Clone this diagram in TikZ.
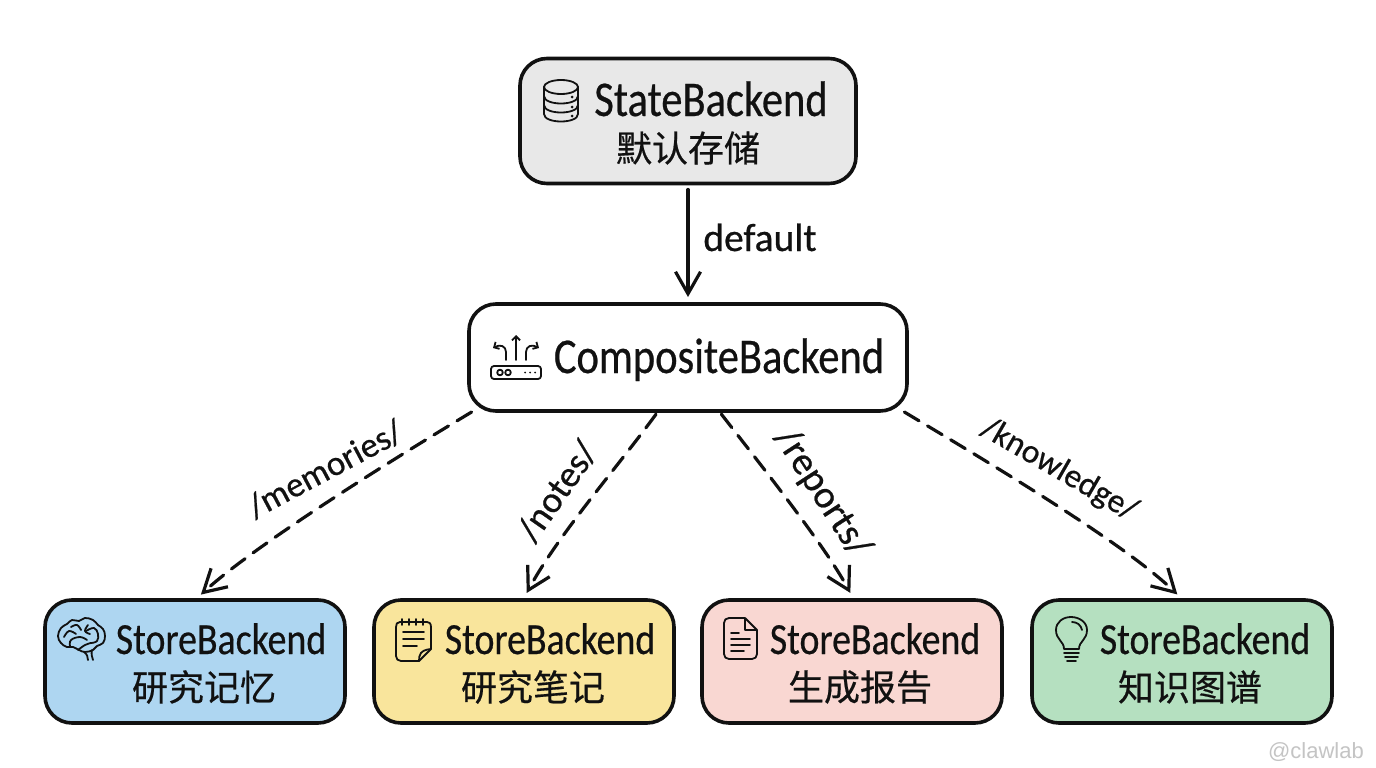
\documentclass[tikz,border=0pt]{standalone}
\usepackage{fontspec}
\usetikzlibrary{arrows.meta}
\setmainfont{Carlito}[FakeStretch=0.85,FakeBold=0.5]
\newfontfamily\routefont{Carlito}[FakeBold=0.6]
\newfontfamily\cjk{Noto Sans CJK SC}[FakeBold=0.5]
\newfontfamily\wm{Liberation Sans}
\definecolor{ink}{HTML}{111111}
\tikzset{
  box/.style={draw=ink,line width=3.6pt,rounded corners=27pt,inner sep=0pt,outer sep=0pt,minimum width=#1},
  head/.style={text=ink,inner sep=0pt,anchor=base,font=\fontsize{50}{50}\selectfont},
  storehead/.style={text=ink,inner sep=0pt,anchor=base,font=\fontsize{44.5}{44.5}\selectfont},
  zh/.style={text=ink,inner sep=0pt,font=\cjk\fontsize{36}{36}\selectfont},
  route/.style={text=ink,inner sep=0pt,font=\routefont\fontsize{#1}{#1}\selectfont},
  conn/.style={draw=ink,line width=3.2pt,line cap=round,-{Straight Barb[length=22pt,width=25pt]}},
  dashconn/.style={conn,dash pattern=on 17pt off 10pt},
  icon/.style={draw=ink,line width=1.8pt,line cap=round,line join=round},
  dotmark/.style={fill=ink,draw=none}
}
\begin{document}
\begin{tikzpicture}[x=1pt,y=-1pt]
\useasboundingbox (0,0) rectangle (1376,768);
\fill[white] (0,0) rectangle (1376,768);
% boxes
\node[box=336pt,minimum height=125pt,fill={rgb,255:red,232;green,232;blue,232}] (state) at (688,121) {};
\node[box=438pt,minimum height=107pt,fill=white] (comp) at (688,357.5) {};
\node[box=300pt,minimum height=123pt,fill={rgb,255:red,174;green,214;blue,241}] (mem) at (195,661.5) {};
\node[box=300pt,minimum height=123pt,fill={rgb,255:red,249;green,229;blue,156}] (notes) at (524,661.5) {};
\node[box=300pt,minimum height=123pt,fill={rgb,255:red,249;green,215;blue,210}] (rep) at (852,661.5) {};
\node[box=300pt,minimum height=123pt,fill={rgb,255:red,181;green,224;blue,192}] (know) at (1182,661.5) {};
% texts
\node[head] (t1) at (711,116) {StateBackend};
\node[zh] (z1) at (688,148) {默认存储};
\node[head] (t2) at (719,373) {CompositeBackend};
\node[storehead] (t3) at (221,654) {StoreBackend};
\node[zh] (z3) at (204,687) {研究记忆};
\node[storehead] (t4) at (550,654) {StoreBackend};
\node[zh] (z4) at (533,687) {研究笔记};
\node[storehead] (t5) at (875,654) {StoreBackend};
\node[zh] (z5) at (860,687) {生成报告};
\node[storehead] (t6) at (1205,654) {StoreBackend};
\node[zh] (z6) at (1190,687) {知识图谱};
% connectors
\draw[conn,shorten <=6pt,shorten >=7pt] (state.south) -- (comp.north);
\node[route=39.5,anchor=base] (l0) at (760,251) {default};
\draw[dashconn,shorten <=2pt,shorten >=8pt] (comp.194.3) .. controls +(-80,48) and +(60,-55) .. (mem.north);
\draw[dashconn,shorten <=4pt,shorten >=8pt] (comp.-119.3) .. controls +(-40,55) and +(35,-65) .. (notes.91);
\draw[dashconn,shorten <=4pt,shorten >=8pt] (comp.-60.7) .. controls +(42,54) and +(-29,-54) .. (rep.88);
\draw[dashconn,shorten <=2pt,shorten >=8pt] (comp.-14) .. controls +(80,48) and +(-60,-58) .. (know.89);
\node[route=35,rotate=28] (l1) at (325,469) {/memories/};
\node[route=37,rotate=55] (l2) at (557,491) {/notes/};
\node[route=39,rotate=-57] (l3) at (822,493) {/reports/};
\node[route=33.5,rotate=-30] (l4) at (1059,470) {/knowledge/};
% database icon
\draw[icon] (561,87) ellipse [x radius=17,y radius=7];
\draw[icon] (544,87) -- (544,114) .. controls (544,124) and (578,124) .. (578,114) -- (578,87);
\draw[icon] (544,96) .. controls (544,106) and (578,106) .. (578,96);
\draw[icon] (544,105) .. controls (544,115) and (578,115) .. (578,105);
\foreach \p in {(572,97),(572,107),(572,116)} \fill[dotmark] \p circle (1.5);
% router icon
\draw[icon,rounded corners=3pt] (491,366) rectangle (541,379);
\draw[icon] (500,372.5) circle (2.8) (508,372.5) circle (2.8);
\foreach \p in {(525,372.5),(530,372.5),(535,372.5)} \fill[dotmark] \p circle (1);
\draw[icon,-{Straight Barb[length=4pt,width=8pt]}] (516,360) -- (516,335);
\draw[icon,-{Straight Barb[length=4pt,width=8pt]}] (506,360) -- (506,352) .. controls (506,346) and (500,344) .. (493,348);
\draw[icon,-{Straight Barb[length=4pt,width=8pt]}] (526,360) -- (526,352) .. controls (526,346) and (532,344) .. (539,348);
% brain icon
\draw[icon] plot[smooth cycle,tension=.7] coordinates {(58,636)(61,628)(67,624)(72,620)(79,621)(85,618)(93,620)(98,625)(103,629)(105,636)(103,643)(97,646)(93,650)(85,652)(79,650)(73,647)(67,647)(61,643)};
\draw[icon] plot[smooth,tension=.7] coordinates {(64,637)(69,631)(76,634)};
\draw[icon] plot[smooth,tension=.7] coordinates {(71,627)(77,625)(81,630)};
\draw[icon] plot[smooth,tension=.7] coordinates {(88,625)(85,631)(90,634)};
\draw[icon] plot[smooth,tension=.7] coordinates {(86,631)(94,628)(98,634)(97,641)(91,643)};
\draw[icon] plot[smooth,tension=.7] coordinates {(70,646)(71,640)(80,637)(87,640)};
\draw[icon] plot[smooth,tension=.7] coordinates {(78,650)(85,645)(91,643)};
\draw[icon] (84,652) .. controls (87,654) and (88,657) .. (88,660);
\draw[icon] (92,650) .. controls (91,654) and (92,657) .. (93,660);
% notepad icon
\draw[icon] (431,649) -- (431,627) .. controls (431,623) and (429,622) .. (427,622) -- (400,622)
  .. controls (397,622) and (396,624) .. (396,627) -- (396,656) .. controls (396,659) and (398,661) .. (401,661) -- (419,661) -- (431,649);
\draw[icon] (419,661) .. controls (419,655) and (420,650) .. (431,649);
\foreach \x in {402,409,416,423} \draw[icon] (\x,619) -- (\x,625);
\draw[icon] (403,632) -- (424,632) (403,639) -- (424,639) (403,646) -- (417,646);
% document icon
\draw[icon] (745,618) -- (729,618) .. controls (726,618) and (724,620) .. (724,623) -- (724,654)
  .. controls (724,657) and (726,659) .. (729,659) -- (752,659) .. controls (755,659) and (757,657) .. (757,654) -- (757,630) -- (745,618) -- (745,630) -- (757,630);
\draw[icon] (731,633) -- (739,633) (731,639) -- (750,639) (731,645) -- (750,645) (731,651) -- (744,651);
% bulb icon
\draw[icon] (1064,649) .. controls (1064,641) and (1056,640) .. (1056,630) .. controls (1056,622) and (1063,617) .. (1071,617)
  .. controls (1079,617) and (1087,622) .. (1087,630) .. controls (1087,640) and (1079,641) .. (1079,649) -- cycle;
\draw[icon] (1064,653) -- (1079,653) (1065,657) -- (1078,657) (1067,661) -- (1076,661);
\draw[icon] (1072,622) .. controls (1077,622) and (1081,625) .. (1082,630);
% watermark
\node[text={rgb,255:red,196;green,196;blue,196},inner sep=0pt,font=\wm\fontsize{22}{22}\selectfont] (wm) at (1316,752) {@clawlab};
\end{tikzpicture}
\end{document}
